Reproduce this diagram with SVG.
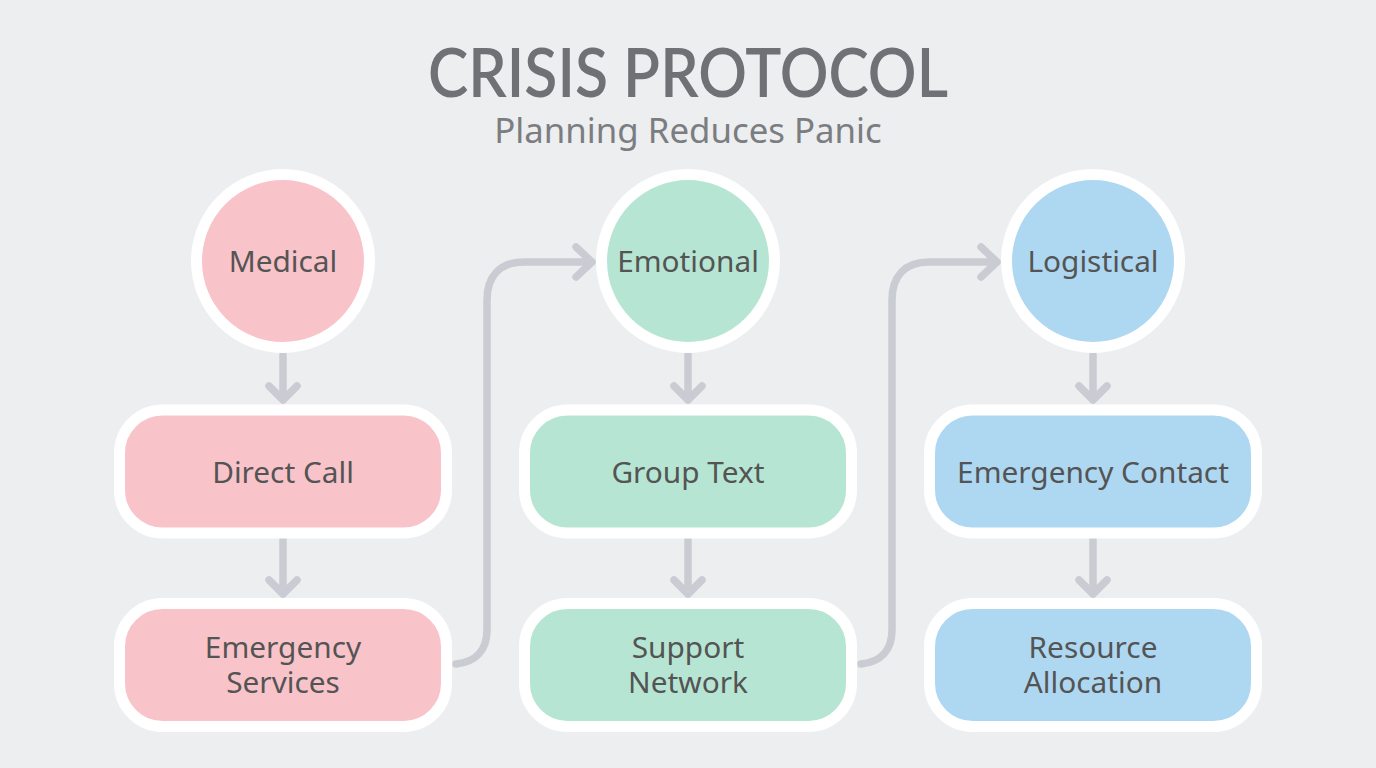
<svg xmlns="http://www.w3.org/2000/svg" width="1376" height="768" viewBox="0 0 1376 768">
<defs>
<style>
text{font-family:"Noto Sans","Liberation Sans",sans-serif;text-anchor:middle}
.t{font-size:29.8px;fill:#545454}
.n{stroke:#fff;stroke-width:11}
.r{fill:#f8c4ca}.g{fill:#b6e6d3}.b{fill:#aed8f2}
.c{fill:none;stroke:#c9ccd2;stroke-width:7.5;stroke-linecap:round;stroke-linejoin:round}
</style>
</defs>
<rect width="1376" height="768" fill="#eceef0"/>
<text id="title" x="688" y="97" font-size="68" font-weight="600" fill="#6f7175" textLength="520" lengthAdjust="spacingAndGlyphs" style="font-family:Lato,'Noto Sans',sans-serif">CRISIS PROTOCOL</text>
<text id="subtitle" x="688" y="143" font-size="34.8" fill="#7b7d81">Planning Reduces Panic</text>
<g id="connectors" class="c">
<path d="M283 355V400M269 386L283 400L297 386"/>
<path d="M283 540V594M269 580L283 594L297 580"/>
<path d="M688 355V400M674 386L688 400L702 386"/>
<path d="M688 540V594M674 580L688 594L702 580"/>
<path d="M1093 355V400M1079 386L1093 400L1107 386"/>
<path d="M1093 540V594M1079 580L1093 594L1107 580"/>
<path d="M456 664C476 662 487 650 487 630V300C487 276 500 262 524 262H592M576 247L592 262L576 277"/>
<path d="M861 664C881 662 892 650 892 630V300C892 276 905 262 929 262H997M981 247L997 262L981 277"/>
</g>
<g id="medical"><circle class="n r" cx="283" cy="261" r="86.5"/><text class="t" x="283" y="271.500">Medical</text></g>
<g id="direct-call"><rect class="n r" x="119.5" y="410" width="327" height="123" rx="43"/><text class="t" x="283" y="482.500">Direct Call</text></g>
<g id="emergency-services"><rect class="n r" x="119.5" y="603.500" width="327" height="123" rx="43"/><text class="t"><tspan x="283" y="657.500">Emergency</tspan><tspan x="283" y="692.500">Services</tspan></text></g>
<g id="emotional"><circle class="n g" cx="688" cy="261" r="86.5"/><text class="t" x="688" y="271.500">Emotional</text></g>
<g id="group-text"><rect class="n g" x="524.5" y="410" width="327" height="123" rx="43"/><text class="t" x="688" y="482.500">Group Text</text></g>
<g id="support-network"><rect class="n g" x="524.5" y="603.500" width="327" height="123" rx="43"/><text class="t"><tspan x="688" y="657.500">Support</tspan><tspan x="688" y="692.500">Network</tspan></text></g>
<g id="logistical"><circle class="n b" cx="1093" cy="261" r="86.5"/><text class="t" x="1093" y="271.500">Logistical</text></g>
<g id="emergency-contact"><rect class="n b" x="929.5" y="410" width="327" height="123" rx="43"/><text class="t" x="1093" y="482.500">Emergency Contact</text></g>
<g id="resource-allocation"><rect class="n b" x="929.5" y="603.500" width="327" height="123" rx="43"/><text class="t"><tspan x="1093" y="657.500">Resource</tspan><tspan x="1093" y="692.500">Allocation</tspan></text></g>
</svg>
